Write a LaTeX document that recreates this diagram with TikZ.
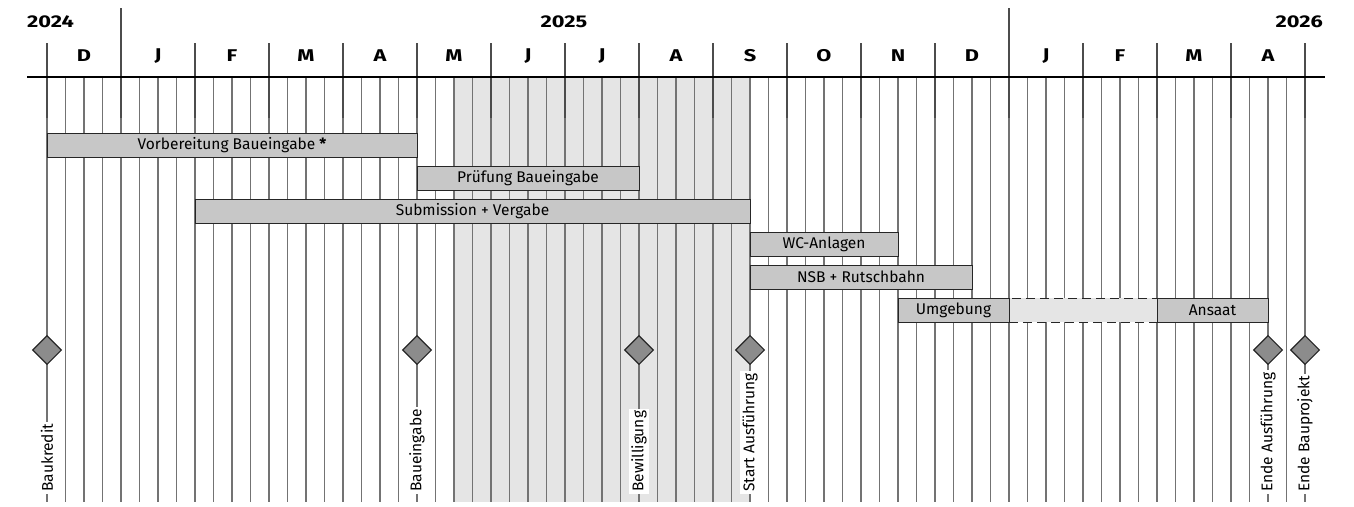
\documentclass[tikz,border=0pt]{standalone}
\usepackage{fontspec}
\setmainfont{Fira Sans}
\newfontfamily\hdrfont[FakeStretch=1.28]{Fira Sans}
\usetikzlibrary{shapes.geometric}
\definecolor{gridc}{gray}{0.45}
\definecolor{monthc}{gray}{0.3}
\definecolor{barfill}{gray}{0.78}
\definecolor{lightfill}{gray}{0.9}
\definecolor{msfill}{gray}{0.55}
\tikzset{
  weekline/.style={draw=gridc, line width=1.1pt},
  monthline/.style={draw=monthc, line width=1.2pt},
  hline/.style={draw=black, line width=1.2pt},
  yearlbl/.style={font=\hdrfont\bfseries\fontsize{17}{19}\selectfont, inner sep=0pt},
  monthlbl/.style={font=\hdrfont\bfseries\fontsize{17}{19}\selectfont, inner sep=0pt},
  bar/.style={draw=black!85, line width=1pt, fill=barfill, minimum height=24pt, inner sep=0pt, font=\fontsize{15.5}{17}\selectfont},
  dashbar/.style={bar, fill=lightfill, dash pattern=on 9pt off 5pt},
  msdiamond/.style={diamond, draw=black!85, line width=1.1pt, fill=msfill, minimum width=29pt, minimum height=29pt, inner sep=0pt},
  mslabel/.style={rotate=90, anchor=west, fill=white, inner sep=2pt, font=\fontsize{15.5}{17}\selectfont},
  msline/.style={draw=gridc, line width=1.1pt}
}
\begin{document}
\begin{tikzpicture}[x=1pt,y=-1pt]
\useasboundingbox (0,0) rectangle (1354,506);
% shaded period
\fill[lightfill] (454,77) rectangle (750,502);
% week grid
\foreach \k in {0,...,68} \draw[weekline] ({47+18.5*\k},77) -- ({47+18.5*\k},502);
% month lines
\foreach \k in {0,2,3,4,5,6,7,8,9,10,11,12,14,15,16,17} \draw[monthline] ({47+74*\k},43) -- ({47+74*\k},118);
\foreach \k in {1,13} \draw[monthline] ({47+74*\k},8) -- ({47+74*\k},118);
\draw[hline] (27,77) -- (1325,77);
% years
\node[yearlbl, anchor=west] (y24) at (27,22) {2024};
\node[yearlbl] (y25) at (564,22) {2025};
\node[yearlbl, anchor=east] (y26) at (1323,22) {2026};
% months
\foreach \m [count=\n] in {D,J,F,M,A,M,J,J,A,S,O,N,D,J,F,M,A}
  \node[monthlbl] (m\n) at ({84+74*(\n-1)},56) {\m};
% bars
\node[bar, minimum width=370pt] (vb) at (232,145) {Vorbereitung Baueingabe \textbf{*}};
\node[bar, minimum width=222pt] (pb) at (528,178) {Prüfung Baueingabe};
\node[bar, minimum width=555pt] (sv) at (472.5,211) {Submission + Vergabe};
\node[bar, minimum width=148pt] (wc) at (824,244) {WC-Anlagen};
\node[bar, minimum width=222pt] (nsb) at (861,277) {NSB + Rutschbahn};
\node[dashbar, minimum width=148pt] (gap) at (1083,310) {};
\node[bar, minimum width=111pt] (umg) at (953.5,310) {Umgebung};
\node[bar, minimum width=111pt] (ans) at (1212.5,310) {Ansaat};
% milestones
\node[msdiamond] (d1) at (47,350) {};
\node[msdiamond] (d2) at (417,350) {};
\node[msdiamond] (d3) at (639,350) {};
\node[msdiamond] (d4) at (750,350) {};
\node[msdiamond] (d5) at (1268,350) {};
\node[msdiamond] (d6) at (1305,350) {};
\node[mslabel] (l1) at (47,494) {Baukredit};
\node[mslabel] (l2) at (417,494) {Baueingabe};
\node[mslabel] (l3) at (639,494) {Bewilligung};
\node[mslabel] (l4) at (750,494) {Start Ausführung};
\node[mslabel] (l5) at (1268,494) {Ende Ausführung};
\node[mslabel] (l6) at (1305,494) {Ende Bauprojekt};
\foreach \i in {1,...,6} \draw[msline] (d\i.south) -- (l\i.east);
\end{tikzpicture}
\end{document}
